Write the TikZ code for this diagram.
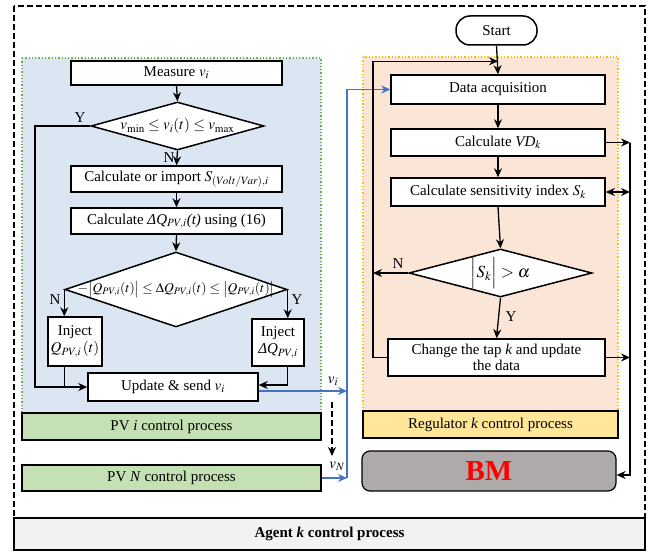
\documentclass[tikz,border=0pt]{standalone}
\usepackage{mathptmx}
\usepackage[no-math]{fontspec}
\setmainfont{Liberation Serif}
\usetikzlibrary{arrows.meta,shapes.geometric,calc}
\definecolor{pvblue}{HTML}{DCE6F2}
\definecolor{pvgreen}{HTML}{C5E0B4}
\definecolor{gborder}{HTML}{70AD47}
\definecolor{regfill}{HTML}{FBE5D6}
\definecolor{regyellow}{HTML}{FFE699}
\definecolor{yborder}{HTML}{FFC000}
\definecolor{bmgray}{HTML}{AEAAAA}
\definecolor{agentgray}{HTML}{F2F2F2}
\definecolor{linkblue}{HTML}{4472C4}
\newcommand\myfs{\fontsize{15}{17}\selectfont}
\tikzset{
  flow/.style={draw=black, line width=1.5pt, fill=white, inner sep=1pt, font=\myfs, align=center},
  dec/.style={diamond, draw=black, line width=1.5pt, fill=white, inner sep=0pt},
  txt/.style={font=\myfs, inner sep=1pt},
  arr/.style={-{Stealth[length=9pt,width=8pt]}, line width=1.3pt},
  dbl/.style={{Stealth[length=9pt,width=8pt]}-{Stealth[length=9pt,width=8pt]}, line width=1.3pt},
  plain/.style={line width=1.3pt},
  bar/.style={draw=black, line width=1.2pt, font=\myfs, inner sep=1pt},
}
\begin{document}
\begin{tikzpicture}[x=1pt,y=-1pt]
\useasboundingbox (0,0) rectangle (655,551);
% outer dashed frame
\draw[line width=1.6pt, dash pattern=on 6pt off 3pt] (14,6) rectangle (645,550);
\node[bar, fill=agentgray, minimum width=631pt, minimum height=32pt] (agent) at (329.5,534) {\textbf{Agent \textit{k} control process}};
% regions
\fill[pvblue] (22,58) rectangle (321,413);
\draw[gborder, line width=1.3pt, dotted] (22,58) rectangle (321,413);
\fill[regfill] (363,57) rectangle (618,411);
\draw[yborder, line width=1.3pt, dotted] (363,57) rectangle (618,411);
\node[bar, fill=pvgreen, minimum width=299pt, minimum height=27pt] (pvi) at (171.5,426.5) {PV \textit{i} control process};
\node[bar, fill=pvgreen, minimum width=299pt, minimum height=26pt] (pvN) at (171.5,478) {PV \textit{N} control process};
\node[bar, fill=regyellow, minimum width=255pt, minimum height=27pt] (reg) at (490.5,424.5) {Regulator \textit{k} control process};
\node[draw=black, line width=1.2pt, fill=bmgray, rounded corners=8pt, minimum width=254pt, minimum height=40pt, inner sep=1pt,
  font=\fontsize{29}{30}\selectfont\bfseries, text=red] (bm) at (489,471) {BM};
% left flow
\node[flow, minimum width=211pt, minimum height=24pt] (measure) at (176.5,73) {Measure $v_i$};
\node[dec, minimum width=173pt, minimum height=48pt] (d1) at (177.5,126) {};
\node[txt] (d1t) at (d1) {$v_{\mathrm{min}} \le v_i(t) \le v_{\mathrm{max}}$};
\node[flow, minimum width=211pt, minimum height=26pt] (calc1) at (176.5,179) {Calculate or import $S_{(Volt/Var),i}$};
\node[flow, minimum width=211pt, minimum height=26pt] (calc2) at (176.5,221) {Calculate \textit{ΔQ}$_{PV,i}$\textit{(t)} using (16)};
\node[dec, minimum width=222pt, minimum height=75pt] (d2) at (176,289.5) {};
\node[txt, font=\fontsize{13.5}{15}\selectfont] (d2t) at (d2) {$-\bigl|Q_{PV,i}(t)\bigr| \le \Delta Q_{PV,i}(t) \le \bigl|Q_{PV,i}(t)\bigr|$};
\node[flow, minimum width=54pt, minimum height=49pt] (injL) at (75,341.5) {Inject\\$Q_{PV,i}\,(t)$};
\node[flow, minimum width=52pt, minimum height=47pt] (injR) at (278,342.5) {Inject\\\textit{ΔQ}$_{PV,i}$};
\node[flow, minimum width=170pt, minimum height=28pt] (update) at (173,387) {Update \& send $v_i$};
% right flow
\node[flow, rounded corners=14pt, minimum width=81pt, minimum height=29pt] (start) at (496.5,30.5) {Start};
\node[flow, minimum width=214pt, minimum height=29pt] (data) at (498,89.5) {Data acquisition};
\node[flow, minimum width=214pt, minimum height=27pt] (vd) at (498,142.5) {Calculate \textit{VD}$_k$};
\node[flow, minimum width=214pt, minimum height=28pt] (sens) at (498,192) {Calculate sensitivity index $S_k$};
\node[dec, minimum width=183pt, minimum height=48pt] (d3) at (500.5,273) {};
\node[txt, font=\fontsize{17}{19}\selectfont] (d3t) at (d3) {$\Bigl|S_k\Bigr| > \alpha$};
\node[flow, minimum width=217pt, minimum height=37pt, font=\fontsize{15}{16}\selectfont] (change) at (496.5,357.5) {Change the tap \textit{k} and update\\the data};
% helper coordinates
\coordinate (lx) at (35,0);
\coordinate (bv) at (347,0);
\coordinate (lv) at (373,0);
\coordinate (rv) at (630,0);
\coordinate (ue) at ($(update.east)+(0,4)$);
\coordinate (ur) at ($(update.east)+(0,-2)$);
\coordinate (tp) at ($(data.north)+(0,-13)$);
\coordinate (bmr) at ($(bm.east)+(0,4)$);
\coordinate (dashA) at (332,402);
\coordinate (dashB) at (332,456);
% left connectors
\draw[arr] (measure.south) -- (d1.north);
\draw[arr] (d1.south) -- (calc1.north);
\draw[arr] (calc1.south) -- (calc2.north);
\draw[arr] (calc2.south) -- (d2.north);
\draw[arr] (d1.west) -- (d1.west -| lx) -- (lx |- update.west) -- (update.west);
\draw[arr] (d2.west) -- (d2.west |- injL.north);
\draw[arr] (d2.east) -- (d2.east |- injR.north);
\draw[plain] (d2.west |- injL.south) -- (d2.west |- update.west);
\draw[arr] (d2.east |- injR.south) -- (d2.east |- ur) -- (ur);
\node[txt] (ly1) at (80,118) {Y};
\node[txt] (ln1) at (169,158) {N};
\node[txt] (ln2) at (55,300) {N};
\node[txt] (ly2) at (297,300) {Y};
% blue links
\draw[arr, linkblue] (ue) -- (ue -| bv);
\draw[arr, linkblue] (pvN.east) -- (pvN.east -| bv);
\draw[arr, linkblue] (pvN.east -| bv) -- (data.west -| bv) -- (data.west);
\node[txt] (lvi) at (333,381) {$v_i$};
\node[txt] (lvN) at (337,466) {$v_N$};
\draw[arr, dashed, dash pattern=on 6pt off 3pt, line width=1.5pt] (dashA) -- (dashB);
% right connectors
\draw[arr] (start.south) -- (data.north);
\draw[arr] (data.south) -- (vd.north);
\draw[arr] (vd.south) -- (sens.north);
\draw[arr] (sens.south) -- (d3.north);
\draw[arr] (d3.south) -- (change.north);
\draw[arr] (d3.west) -- (d3.west -| lv);
\draw[arr] (change.west) -- (change.west -| lv) -- (lv |- tp) -- (tp);
\node[txt] (ln3) at (398,264) {N};
\node[txt] (ly3) at (511,317) {Y};
\draw[arr] (vd.east) -- (vd.east -| rv);
\draw[arr] (vd.east -| rv) -- (rv |- bmr) -- (bmr);
\draw[dbl] (sens.east) -- (sens.east -| rv);
\draw[arr] (change.east) -- (change.east -| rv);
\end{tikzpicture}
\end{document}
